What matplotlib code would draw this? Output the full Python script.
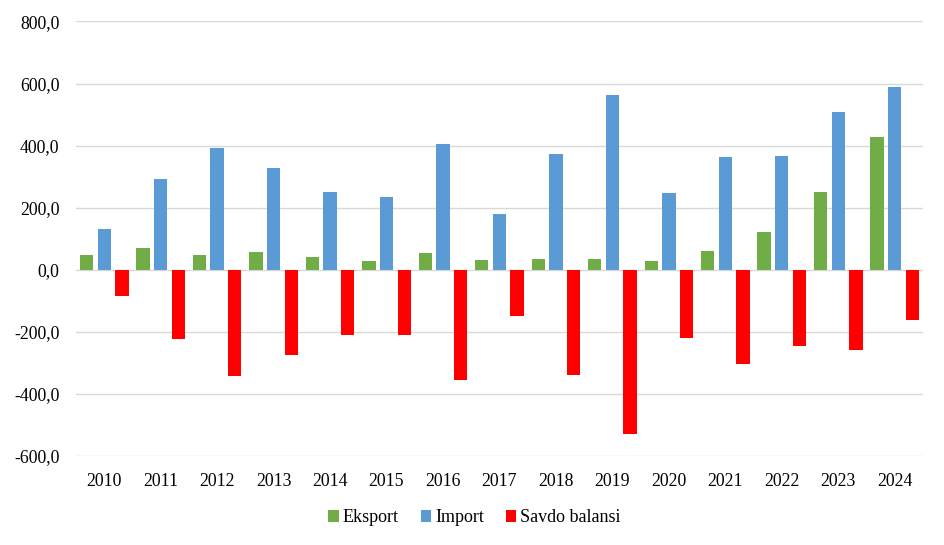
import matplotlib
matplotlib.use('Agg')
import matplotlib.pyplot as plt
import matplotlib.ticker as mticker
import numpy as np

# Data
years = ['2010', '2011', '2012', '2013', '2014', '2015', '2016', '2017',
         '2018', '2019', '2020', '2021', '2022', '2023', '2024']
eksport = [48, 71, 48, 56, 41, 27, 53, 30, 34, 34, 27, 59, 122, 252, 428]
import_ = [131, 293, 391, 328, 250, 236, 406, 180, 374, 564, 247, 363, 366, 509, 590]
savdo = [-83, -222, -343, -273, -209, -209, -354, -150, -340, -530, -221, -305, -244, -258, -162]

plt.rcParams['font.family'] = ['Liberation Serif', 'DejaVu Serif']

fig = plt.figure(figsize=(9.45, 5.45), dpi=100)
ax = fig.add_axes([0.0804, 0.1633, 0.8963, 0.7973])

x = np.arange(len(years))
w = 0.236
step = 0.313

ax.bar(x - step, eksport, w, color='#70AD47', label='Eksport', zorder=3)
ax.bar(x, import_, w, color='#5B9BD5', label='Import', zorder=3)
ax.bar(x + step, savdo, w, color='#FF0000', label='Savdo balansi', zorder=3)

ax.set_xlim(-0.5, len(years) - 0.5)
ax.set_ylim(-600, 800)
ax.set_yticks(np.arange(-600, 801, 200))
ax.yaxis.set_major_formatter(mticker.FuncFormatter(lambda v, p: f'{v:.1f}'.replace('.', ',')))
ax.set_xticks(x)
ax.set_xticklabels(years)

ax.grid(axis='y', color='#D9D9D9', linewidth=1, zorder=0)
for s in ax.spines.values():
    s.set_visible(False)
ax.tick_params(axis='both', length=0, labelsize=12.8)
ax.tick_params(axis='x', pad=12)
ax.tick_params(axis='y', pad=12)

fig.legend(loc='center', bbox_to_anchor=(0.502, 0.05), ncol=3, frameon=False,
           fontsize=13, handlelength=0.6, handleheight=0.6, handletextpad=0.2,
           columnspacing=1.2)

fig.savefig('out.png', dpi=100)
